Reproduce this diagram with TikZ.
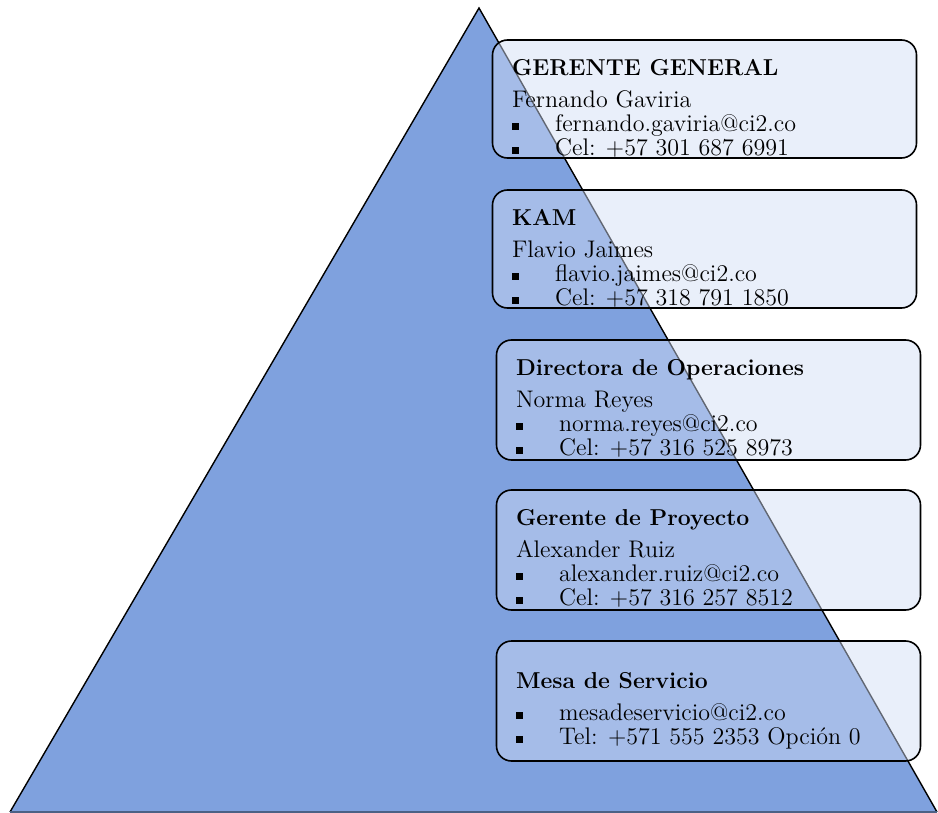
\documentclass[tikz,border=0pt]{standalone}
\usepackage{xcolor}
\usepackage{tikz}
\usetikzlibrary{positioning}

\definecolor{piramide}{RGB}{127,161,222}
\definecolor{cajafondo}{RGB}{208,220,245}

\newcommand{\vineta}{\makebox[21.5pt][l]{\rule[1pt]{3.3pt}{3.3pt}}}
\newcommand{\titulo}[1]{{\fontsize{11.5}{12}\selectfont\textbf{#1}}}

\begin{document}
\begin{tikzpicture}[x=0.5pt, y=-0.5pt,
    caja/.style={draw=black, line width=0.8pt, rounded corners=7.5pt, fill=cajafondo, fill opacity=0.47, minimum width=212pt, minimum height=59pt, inner sep=0pt},
    texto/.style={anchor=north west, align=left, inner sep=0pt, font=\fontsize{12}{12}\selectfont}]
        \useasboundingbox (0,0) rectangle (938,813);

        % Piramide
        \coordinate (cima) at (479,8);
        \coordinate (izq) at (10,812);
        \coordinate (der) at (937,812);
        \fill[piramide] (cima) -- (izq) -- (der) -- cycle;
        \draw[black, line width=0.7pt] (izq) -- (cima) -- (der);
        \draw[piramide!60!black, line width=1pt] (izq) -- (der);

        % Gerente general
        \node[caja] (gg) at (704.5,99) {};
        \node[texto] (ggtxt) at ([xshift=10pt,yshift=-10pt]gg.north west) {\titulo{GERENTE GENERAL}\\[4pt]
        Fernando Gaviria\\
        \vineta fernando.gaviria@ci2.co\\
        \vineta Cel: +57 301 687 6991};

        % KAM
        \node[caja] (kam) at (704.5,249) {};
        \node[texto] (kamtxt) at ([xshift=10pt,yshift=-10pt]kam.north west) {\titulo{KAM}\\[4pt]
        Flavio Jaimes\\
        \vineta flavio.jaimes@ci2.co\\
        \vineta Cel: +57 318 791 1850};

        % Directora de operaciones
        \node[caja, minimum height=60pt] (dirop) at (708.5,400) {};
        \node[texto] (diroptxt) at ([xshift=10pt,yshift=-10pt]dirop.north west) {\titulo{Directora de Operaciones}\\[4pt]
        Norma Reyes\\
        \vineta norma.reyes@ci2.co\\
        \vineta Cel: +57 316 525 8973};

        % Gerente de proyecto
        \node[caja, minimum height=60pt] (gp) at (708.5,550) {};
        \node[texto] (gptxt) at ([xshift=10pt,yshift=-10pt]gp.north west) {\titulo{Gerente de Proyecto}\\[4pt]
        Alexander Ruiz\\
        \vineta alexander.ruiz@ci2.co\\
        \vineta Cel: +57 316 257 8512};

        % Mesa de servicio
        \node[caja, minimum height=60pt] (mesa) at (708.5,701) {};
        \node[texto] (mesatxt) at ([xshift=10pt,yshift=-16pt]mesa.north west) {\titulo{Mesa de Servicio}\\[4pt]
        \vineta mesadeservicio@ci2.co\\
        \vineta Tel: +571 555 2353 Opción 0};
    \end{tikzpicture}
\end{document}
